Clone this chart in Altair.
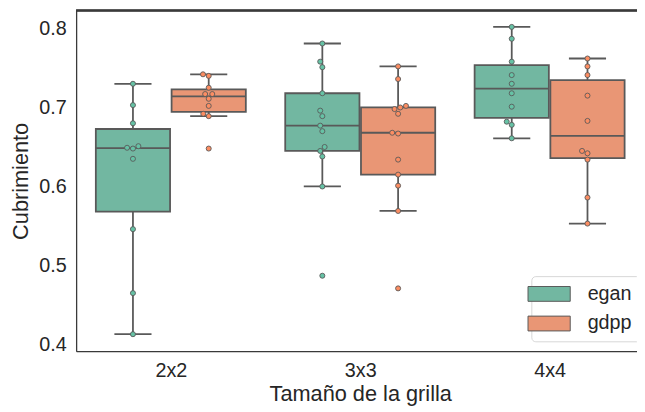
import altair as alt
import numpy as np
import pandas as pd

# ---------------- data ----------------
grids = ["2x2", "3x3", "4x4"]
algos = ["egan", "gdpp"]

egan_2x2 = [0.730, 0.703, 0.680, 0.651, 0.649, 0.648, 0.635, 0.546, 0.465, 0.413]
gdpp_2x2 = [0.742, 0.740, 0.725, 0.717, 0.717, 0.711, 0.702, 0.692, 0.689, 0.648]
egan_3x3 = [0.781, 0.758, 0.751, 0.718, 0.696, 0.689, 0.677, 0.670, 0.650, 0.645, 0.638, 0.600, 0.487]
gdpp_3x3 = [0.752, 0.736, 0.702, 0.700, 0.698, 0.692, 0.668, 0.667, 0.634, 0.615, 0.601, 0.569, 0.471]
egan_4x4 = [0.802, 0.787, 0.758, 0.741, 0.730, 0.718, 0.701, 0.682, 0.678, 0.661]
gdpp_4x4 = [0.762, 0.752, 0.741, 0.715, 0.683, 0.645, 0.642, 0.634, 0.586, 0.553]

series = {
    ("2x2", "egan"): egan_2x2, ("2x2", "gdpp"): gdpp_2x2,
    ("3x3", "egan"): egan_3x3, ("3x3", "gdpp"): gdpp_3x3,
    ("4x4", "egan"): egan_4x4, ("4x4", "gdpp"): gdpp_4x4,
}

# ---------------- style / layout ----------------
point_colors = ["#66c2a5", "#fc8d62"]
box_colors = ["#72b7a1", "#e99675"]
LINE = "#595959"
FRAME = "#3a3a3a"
TEXT = "#262626"
FONT = "Liberation Sans"

W, H = 568, 345
PX_X = 191.8          # pixels per category unit
PX_Y = 800.0          # pixels per value unit
X_DOM = [-0.5, -0.5 + W / PX_X]
Y_LO = 0.3915
Y_DOM = [Y_LO, Y_LO + H / PX_Y]
HUE_OFF = 0.2
CAP_HALF = 0.098
SWARM_D = 6.0         # px spacing between swarm points


def swarm_offsets(vals):
    ys = np.asarray(vals) * PX_Y
    order = np.argsort(ys, kind="stable")
    placed = []
    offs = np.zeros(len(vals))
    for i in order:
        y = ys[i]
        neigh = [(px, py) for (px, py) in placed if abs(py - y) < SWARM_D]
        cands = [0.0]
        for px, py in neigh:
            dx = np.sqrt(max(SWARM_D ** 2 - (py - y) ** 2, 0.0))
            cands += [px - dx, px + dx]
        cands = sorted(cands, key=lambda c: abs(c))
        chosen = cands[-1]
        for c in cands:
            if all((c - px) ** 2 + (py - y) ** 2 >= SWARM_D ** 2 - 1e-6 for px, py in neigh):
                chosen = c
                break
        offs[i] = chosen
        placed.append((chosen, y))
    return offs / PX_X


pt_rows, box_rows, cap_rows = [], [], []
for gi, g in enumerate(grids):
    for ai, a in enumerate(algos):
        vals = np.array(series[(g, a)])
        xc = gi + (-HUE_OFF if ai == 0 else HUE_OFF)
        q1, med, q3 = np.percentile(vals, [25, 50, 75])
        iqr = q3 - q1
        lo = vals[vals >= q1 - 1.5 * iqr].min()
        hi = vals[vals <= q3 + 1.5 * iqr].max()
        if ai == 0:
            bx0, bx1 = gi - 2 * HUE_OFF + 0.004, gi - 0.004
        else:
            bx0, bx1 = gi + 0.004, gi + 2 * HUE_OFF - 0.004
        box_rows.append(dict(grid=g, algo=a, xc=xc, bx0=bx0, bx1=bx1,
                             q1=q1, med=med, q3=q3, lo=lo, hi=hi))
        for cy in (lo, hi):
            cap_rows.append(dict(algo=a, c0=xc - CAP_HALF, c1=xc + CAP_HALF, cy=cy))
        offs = swarm_offsets(vals)
        for v, o in zip(vals, offs):
            pt_rows.append(dict(grid=g, algo=a, px=xc + o, value=v,
                                pcolor=point_colors[ai]))

pts = pd.DataFrame(pt_rows)
boxes = pd.DataFrame(box_rows)
caps = pd.DataFrame(cap_rows)

xscale = alt.Scale(domain=X_DOM, nice=False, zero=False)
yscale = alt.Scale(domain=Y_DOM, nice=False, zero=False)
label_expr = "[" + ",".join("'%s'" % g for g in grids) + "][round(datum.value)]"

x_axis = alt.Axis(values=list(range(len(grids))), labelExpr=label_expr,
                  title="Tamaño de la grilla", ticks=False, grid=False,
                  labelPadding=10, titlePadding=3, titleX=287.7)
y_axis = alt.Axis(values=[0.4, 0.5, 0.6, 0.7, 0.8], format=".1f",
                  title="Cubrimiento", ticks=False, grid=False,
                  labelPadding=10, titlePadding=6)

whisk = alt.Chart(boxes).mark_rule(color=LINE, strokeWidth=1.8).encode(
    x=alt.X("xc:Q", scale=xscale, axis=x_axis),
    y=alt.Y("lo:Q", scale=yscale, axis=y_axis),
    y2="hi:Q",
)

cap = alt.Chart(caps).mark_rule(color=LINE, strokeWidth=1.8).encode(
    x="c0:Q", x2="c1:Q", y="cy:Q",
)

# wide swatch: 15px tall layout symbol stretched horizontally to ~42px
box = alt.Chart(boxes).mark_rect(stroke=LINE, strokeWidth=1.8, opacity=1).encode(
    x="bx0:Q", x2="bx1:Q", y="q1:Q", y2="q3:Q",
    fill=alt.Fill("algo:N", scale=alt.Scale(domain=algos, range=box_colors),
                  legend=alt.Legend(title=None, orient="none", legendX=461, legendY=269,
                                    symbolType="M-2.85,-1H2.85V1H-2.85Z", symbolSize=225,
                                    symbolStrokeColor=LINE, symbolStrokeWidth=1,
                                    symbolOpacity=1,
                                    labelFontSize=20, labelOffset=29, labelColor=TEXT,
                                    labelFont=FONT, rowPadding=10,
                                    padding=8, fillColor="white",
                                    strokeColor="#d6d6d6", cornerRadius=4)),
)

median = alt.Chart(boxes).mark_rule(color=LINE, strokeWidth=1.8).encode(
    x="bx0:Q", x2="bx1:Q", y="med:Q",
)

points = alt.Chart(pts).mark_point(filled=True, size=26, stroke=LINE,
                                   strokeWidth=0.9, opacity=1).encode(
    x="px:Q", y="value:Q",
    fill=alt.Fill("pcolor:N", scale=None),
)

top_line = alt.Chart(boxes).mark_rule(color=FRAME, strokeWidth=1.3).encode(
    x=alt.value(0), x2=alt.value(W), y=alt.value(0),
)

chart = alt.layer(whisk, cap, box, median, points, top_line).properties(
    width=W, height=H,
    autosize=alt.AutoSizeParams(type="none"),
    padding={"left": 69, "top": 0, "right": 0, "bottom": 55},
).configure_view(stroke=None).configure_axis(
    labelFont=FONT, titleFont=FONT, labelFontSize=20, titleFontSize=22,
    labelColor=TEXT, titleColor=TEXT, titleFontWeight="normal",
    domainColor=FRAME, domainWidth=1.3,
).configure_legend(labelFont=FONT)

chart.save("out.html", embed_options={"renderer": "svg", "actions": False})
